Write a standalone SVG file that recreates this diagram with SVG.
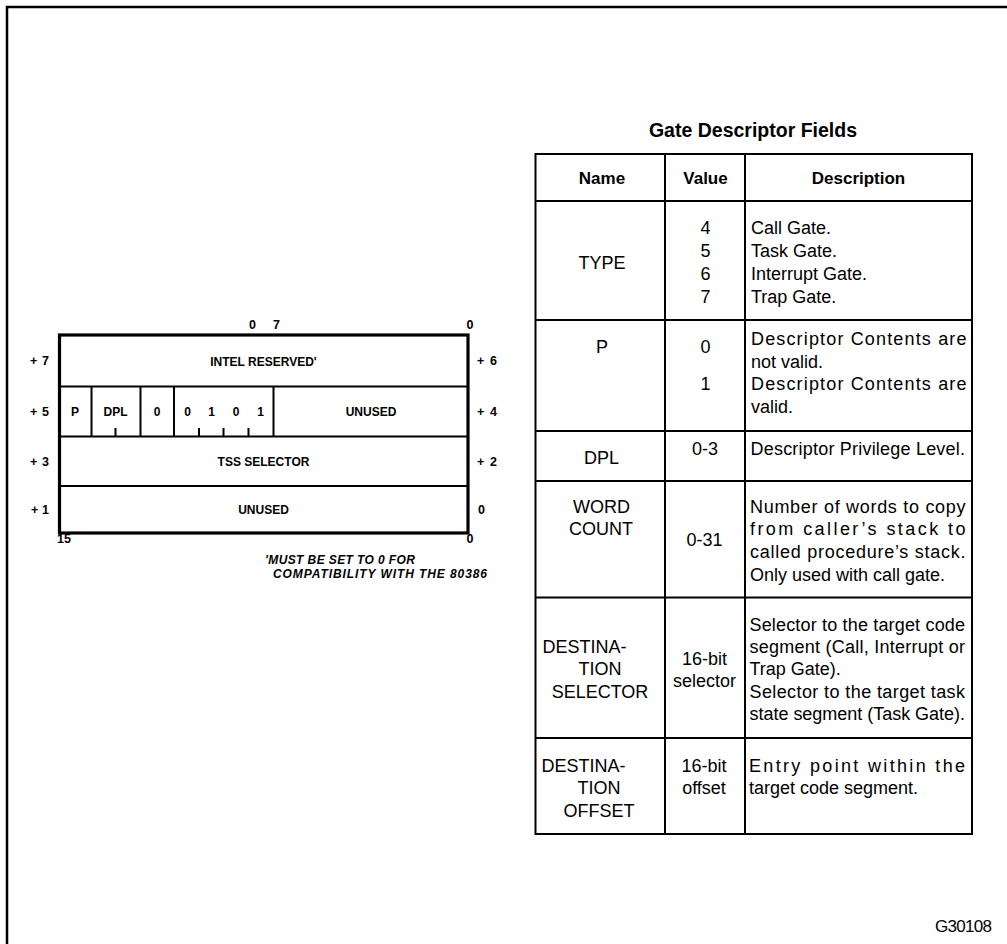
<svg xmlns="http://www.w3.org/2000/svg" width="1007" height="944" viewBox="0 0 1007 944">
<style>
  .b { font-family: "Liberation Sans", Arial, sans-serif; font-weight: bold; fill: #000; }
  .r { font-family: "Liberation Sans", Arial, sans-serif; fill: #000; }
  .lab { font-size: 12px; }
  .num { font-size: 12.5px; }
  .t { font-size: 18px; }
  .th { font-size: 17px; }
  .mid { text-anchor: middle; }
  .ln { stroke: #000; stroke-width: 2; fill: none; }
  .thick { stroke: #000; stroke-width: 3.2; fill: none; }
</style>
<rect width="1007" height="944" fill="#fff"/>
<g id="frame">
  <path d="M7,944 V7 H1007" stroke="#000" stroke-width="2.5" fill="none"/>
</g>
<g id="connectors"/>
<g id="gate-descriptor-format">
  <g class="b num">
    <text x="252.5" y="328.5" class="mid">0</text>
    <text x="276.5" y="328.5" class="mid">7</text>
    <text x="470" y="328.5" class="mid">0</text>
    <text x="30" y="365" textLength="19">+7</text>
    <text x="30" y="415.5" textLength="19">+5</text>
    <text x="30" y="465.5" textLength="19">+3</text>
    <text x="31" y="514" textLength="18">+1</text>
    <text x="477" y="365" textLength="20">+6</text>
    <text x="477" y="415.5" textLength="20">+4</text>
    <text x="477" y="465.5" textLength="20">+2</text>
    <text x="478" y="514">0</text>
    <text x="57" y="543">15</text>
    <text x="470" y="543" class="mid">0</text>
  </g>
  <rect x="59.5" y="335" width="408.5" height="198" class="thick"/>
  <path d="M59.5,386.5 H468 M59.5,436.5 H468 M59.5,486 H468 M91.5,386.5 V436.5 M140.5,386.5 V436.5 M174,386.5 V436.5 M273.5,386.5 V436.5 M115.5,428 V436.5 M199,428 V436.5 M223.5,428 V436.5 M248.5,428 V436.5" class="ln"/>
  <g class="b lab">
    <text x="263.5" y="365.5" class="mid">INTEL RESERVED'</text>
    <text x="75" y="415.5" class="mid">P</text>
    <text x="115.5" y="415.5" class="mid">DPL</text>
    <text x="157" y="415.5" class="mid">0</text>
    <text x="187.5" y="415.5" class="mid">0</text>
    <text x="211.5" y="415.5" class="mid">1</text>
    <text x="236" y="415.5" class="mid">0</text>
    <text x="260.5" y="415.5" class="mid">1</text>
    <text x="371" y="415.5" class="mid">UNUSED</text>
    <text x="263.5" y="465.5" class="mid">TSS SELECTOR</text>
    <text x="263.5" y="514" class="mid">UNUSED</text>
  </g>
  <g class="b" font-size="12" font-style="italic">
    <text x="265" y="564" textLength="150">'MUST BE SET TO 0 FOR</text>
    <text x="273" y="577.5" textLength="214">COMPATIBILITY WITH THE 80386</text>
  </g>
</g>
<g id="gate-descriptor-fields">
  <text x="753" y="136.5" class="b mid" font-size="19.5">Gate Descriptor Fields</text>
  <rect x="535.5" y="154" width="436.5" height="680" class="ln"/>
  <path d="M665,154 V834 M745,154 V834 M535.5,201 H972 M535.5,320 H972 M535.5,431 H972 M535.5,481 H972 M535.5,597.5 H972 M535.5,738 H972" class="ln"/>
  <g class="b th">
    <text x="602" y="184" class="mid">Name</text>
    <text x="705.5" y="184" class="mid">Value</text>
    <text x="858.5" y="184" class="mid">Description</text>
  </g>
  <g id="row-type" class="r t">
    <text x="602" y="268.5" class="mid">TYPE</text>
    <text x="705.5" y="234" class="mid">4</text>
    <text x="705.5" y="256.5" class="mid">5</text>
    <text x="705.5" y="279.5" class="mid">6</text>
    <text x="705.5" y="302.5" class="mid">7</text>
    <text x="751" y="234">Call Gate.</text>
    <text x="751" y="256.5">Task Gate.</text>
    <text x="751" y="279.5">Interrupt Gate.</text>
    <text x="751" y="302.5">Trap Gate.</text>
  </g>
  <g id="row-p" class="r t">
    <text x="602" y="353" class="mid">P</text>
    <text x="705.5" y="353" class="mid">0</text>
    <text x="705.5" y="390" class="mid">1</text>
    <text x="751" y="345" textLength="215.5" lengthAdjust="spacing">Descriptor Contents are</text>
    <text x="751" y="367.5">not valid.</text>
    <text x="751" y="390" textLength="215.5" lengthAdjust="spacing">Descriptor Contents are</text>
    <text x="751" y="412.5">valid.</text>
  </g>
  <g id="row-dpl" class="r t">
    <text x="601.5" y="464" class="mid">DPL</text>
    <text x="705" y="454.5" class="mid">0-3</text>
    <text x="750.5" y="454.5" textLength="214.5" lengthAdjust="spacing">Descriptor Privilege Level.</text>
  </g>
  <g id="row-word-count" class="r t">
    <text x="601.5" y="512.5" class="mid">WORD</text>
    <text x="601" y="535" class="mid">COUNT</text>
    <text x="704.5" y="546" class="mid">0-31</text>
    <text x="750" y="512.5" textLength="215.5" lengthAdjust="spacing">Number of words to copy</text>
    <text x="750" y="535" textLength="215.5" lengthAdjust="spacing">from caller’s stack to</text>
    <text x="750" y="557.5" textLength="215.5" lengthAdjust="spacing">called procedure’s stack.</text>
    <text x="750" y="580.5">Only used with call gate.</text>
  </g>
  <g id="row-destination-selector" class="r t">
    <text x="542.5" y="652.5">DESTINA-</text>
    <text x="600" y="675" class="mid">TION</text>
    <text x="600" y="697.5" class="mid">SELECTOR</text>
    <text x="704.5" y="665" class="mid">16-bit</text>
    <text x="704.5" y="687" class="mid">selector</text>
    <text x="749.5" y="630.5" textLength="215.5" lengthAdjust="spacing">Selector to the target code</text>
    <text x="749.5" y="653" textLength="215.5" lengthAdjust="spacing">segment (Call, Interrupt or</text>
    <text x="749.5" y="675">Trap Gate).</text>
    <text x="749.5" y="697.5" textLength="215.5" lengthAdjust="spacing">Selector to the target task</text>
    <text x="749.5" y="720" textLength="215.5" lengthAdjust="spacing">state segment (Task Gate).</text>
  </g>
  <g id="row-destination-offset" class="r t">
    <text x="541.5" y="771.5">DESTINA-</text>
    <text x="599" y="794" class="mid">TION</text>
    <text x="599" y="816.5" class="mid">OFFSET</text>
    <text x="704" y="771.5" class="mid">16-bit</text>
    <text x="704" y="793.5" class="mid">offset</text>
    <text x="749" y="771.5" textLength="216" lengthAdjust="spacing">Entry point within the</text>
    <text x="749" y="793.5">target code segment.</text>
  </g>
</g>
<text id="figure-id" x="935" y="931.5" class="r" font-size="17" textLength="57">G30108</text>
</svg>
